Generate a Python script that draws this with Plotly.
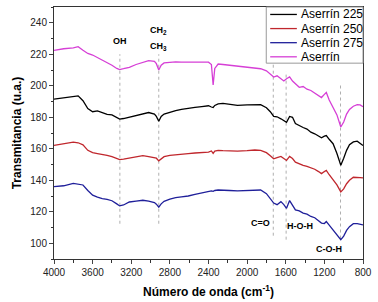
import plotly.graph_objects as go

wavenumber = [4000, 3900, 3800, 3750, 3700, 3650, 3600, 3550, 3500, 3450, 3400, 3350, 3320, 3280,
              3220, 3150, 3080, 3020, 2960, 2940, 2915, 2890, 2860, 2800, 2740, 2680, 2610, 2540,
              2470, 2400, 2370, 2352, 2335, 2300, 2250, 2180, 2100, 2000, 1920, 1860, 1800, 1760,
              1725, 1690, 1650, 1620, 1592, 1560, 1530, 1500, 1460, 1420, 1380, 1340, 1300, 1260,
              1230, 1200, 1180, 1150, 1110, 1070, 1030, 1000, 970, 940, 900, 860, 830, 800]

aserrin = [222.5, 223.5, 224, 224.8, 222.5, 220.5, 219.5, 218, 216.5, 214.5, 213, 211, 210.3, 210.8,
           211.7, 213.5, 215, 216, 215.5, 214, 210, 213, 214.5, 215, 215.2, 215, 215, 215.2,
           215.3, 215, 213.5, 200.5, 211, 213.8, 213.5, 213, 212.5, 212, 211.5, 210.8, 209.5, 207.5,
           205.5, 206.3, 204.5, 203, 204.5, 205.6, 203, 201.5, 199, 199.5, 197.8, 197, 195.5, 193.5,
           192.5, 194.5, 195.7, 191, 186, 181.5, 173.8, 177, 182, 185, 187, 188, 187.8, 186.7]

aserrin_225 = [191.5, 192.3, 192.8, 193.6, 190.5, 185.5, 183.5, 184, 183, 181.8, 181.5, 180, 178.8, 179.2,
               180, 181, 182.3, 183, 182, 180.5, 177.5, 180.5, 182, 183.2, 184.2, 185, 185.8, 186.3,
               186.8, 187.3, 186.5, 186.2, 187.5, 188.5, 188.8, 188, 187.5, 187.8, 188, 188, 186, 183.5,
               180.5, 180.3, 179, 178, 176.8, 180.5, 180, 176, 174.5, 173.5, 172.5, 170.5, 169.5, 168,
               167, 168, 168.4, 166, 163.2, 157, 149.5, 154, 159, 162.5, 164.3, 164.8, 163.5, 162.1]

aserrin_250 = [162.1, 163, 164.2, 163.8, 162.5, 159, 157.5, 156.9, 156.5, 155.8, 155, 154, 153.1, 153.4,
               154, 154.8, 155.6, 155, 154.6, 154, 152.3, 153.8, 155, 155.8, 156.3, 156.6, 156.9, 157.3,
               157.6, 157.9, 158.6, 157, 158.5, 159, 158.8, 158.6, 158.5, 158.8, 159.2, 159, 157.5, 155.5,
               153.6, 154.3, 155.1, 153.8, 152.6, 155.1, 153.8, 151.5, 150.3, 149.4, 148.8, 148, 147, 145.5,
               144.2, 145.5, 146.3, 143.5, 140, 137, 132.6, 134.5, 137.8, 140, 141.9, 142, 141.7, 141.5]

aserrin_275 = [135.9, 136.5, 138, 137.5, 137, 133.5, 130.5, 129.3, 128.3, 127.8, 127, 125, 123.7, 124.3,
               126.2, 126.8, 127.3, 126.8, 125.8, 124.8, 122.9, 125, 126.6, 128, 129, 129.5, 130, 131,
               132, 132.7, 133.2, 133, 133.5, 133.8, 133.8, 133.5, 133.2, 133.4, 133.8, 133.8, 131.5, 128.5,
               125.5, 124.5, 126.4, 124.5, 122.2, 127.1, 124.5, 121.2, 120.5, 119.1, 118.5, 117, 116.2, 114.5,
               112.8, 112.5, 113.8, 111.5, 108.2, 105.5, 102.3, 104.5, 108.2, 110.5, 112.4, 112.5, 112, 111.7]

series_names = ["Aserrín 225", "Aserrín 250", "Aserrín 275", "Aserrín"]
series_values = [aserrin_225, aserrin_250, aserrin_275, aserrin]
series_colors = ["#000000", "#c0272d", "#1f1f9a", "#d63fd6"]

# band marker lines: wavenumber, top, bottom
band_wn = [3318, 2915, 1729, 1596, 1033]
band_top = [220, 220, 213.8, 209, 201.8]
band_bottom = [112.4, 112.4, 104.8, 102.3, 103]

# band labels: text, wavenumber, value
label_text = ["OH", "CH<sub>2</sub>", "CH<sub>3</sub>", "C=O", "H-O-H", "C-O-H"]
label_wn = [3318, 2915, 2915, 1865, 1453, 1149]
label_val = [228.5, 235, 225, 113, 111, 96.5]

x_ticks = [4000, 3600, 3200, 2800, 2400, 2000, 1600, 1200, 800]
y_ticks = [100, 120, 140, 160, 180, 200, 220, 240]

FONT = "Arial, Liberation Sans, sans-serif"

# plot area in pixels (for the custom legend box)
PL, PR, PT, PB = 54, 367, 5.5, 259


def px_x(px):
    return (px - PL) / (PR - PL)


def px_y(py):
    return (PB - py) / (PB - PT)


fig = go.Figure()
for name, vals, col in zip(series_names, series_values, series_colors):
    fig.add_trace(go.Scatter(x=wavenumber, y=vals, mode="lines", name=name,
                             line=dict(color=col, width=1.3), showlegend=False))

for wn, top, bot in zip(band_wn, band_top, band_bottom):
    fig.add_shape(type="line", x0=wn, x1=wn, y0=bot, y1=top, xref="x", yref="y",
                  line=dict(color="#9a9a9a", width=0.8, dash="dot"), layer="below")

for t, wn, v in zip(label_text, label_wn, label_val):
    fig.add_annotation(x=wn, y=v, text="<b>" + t + "</b>", showarrow=False,
                       font=dict(family=FONT, size=9, color="#000"))

# custom legend (compact rows like the reference)
fig.add_shape(type="rect", xref="paper", yref="paper", x0=px_x(269), x1=1, y0=px_y(62), y1=1,
              line=dict(color="#999", width=1), fillcolor="white", layer="above")
for i, (name, col) in enumerate(zip(series_names, series_colors)):
    cy = 13 + 14.2 * i
    fig.add_shape(type="line", xref="paper", yref="paper", x0=px_x(273), x1=px_x(300),
                  y0=px_y(cy), y1=px_y(cy), line=dict(color=col, width=1.3), layer="above")
    fig.add_annotation(xref="paper", yref="paper", x=px_x(302), y=px_y(cy), text=name,
                       showarrow=False, xanchor="left", yanchor="middle",
                       font=dict(family=FONT, size=12, color="#000"))

fig.update_layout(
    width=378, height=302,
    margin=dict(l=54, r=11, t=6, b=43),
    paper_bgcolor="white", plot_bgcolor="white",
    font=dict(family=FONT, size=10, color="#222"),
    showlegend=False,
    xaxis=dict(range=[4000, 800], tickvals=x_ticks, ticks="outside", ticklen=4,
               showline=True, linecolor="#333", linewidth=1, mirror=True, showgrid=False,
               zeroline=False, minor=dict(dtick=200, ticks="outside", ticklen=2.5, tickcolor="#333"),
               tickfont=dict(size=10, color="#222"),
               title=dict(text="<b>Número de onda (cm<sup>-1</sup>)</b>", font=dict(size=12, color="#000"),
                          standoff=10)),
    yaxis=dict(range=[90, 250], tickvals=y_ticks, ticks="outside", ticklen=4,
               showline=True, linecolor="#333", linewidth=1, mirror=True, showgrid=False,
               zeroline=False, minor=dict(dtick=10, ticks="outside", ticklen=2.5, tickcolor="#333"),
               tickfont=dict(size=10, color="#222"),
               title=dict(text="<b>Transmitancia (u.a.)</b>", font=dict(size=12, color="#000"),
                          standoff=6)),
)

fig.write_html("out.html", config={"displayModeBar": False},
               post_script="document.body.style.margin='0';document.body.style.overflow='hidden';")
